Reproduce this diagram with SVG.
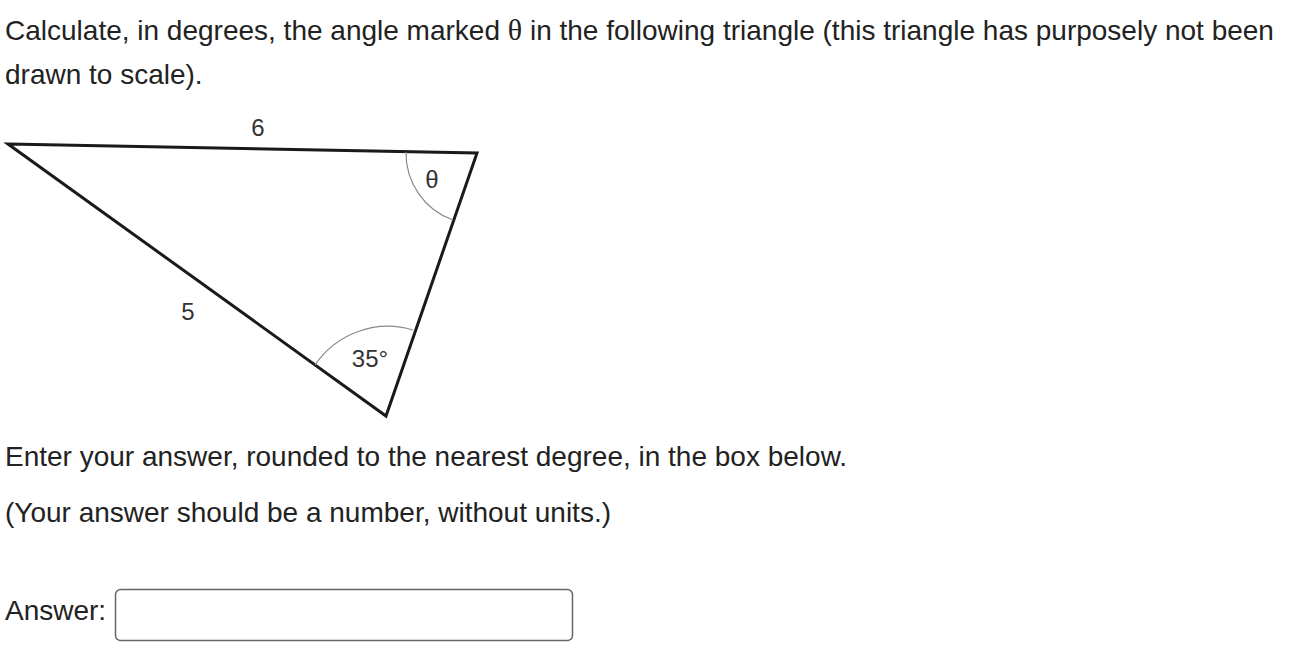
<svg xmlns="http://www.w3.org/2000/svg" width="1296" height="662" viewBox="0 0 1296 662">
<style>
.t{font-family:"Liberation Sans",Arial,sans-serif;font-size:28px;fill:#222}
.s{font-family:"Liberation Serif","Times New Roman",serif}
.l{font-family:"Liberation Sans",Arial,sans-serif;font-size:24px;fill:#333}
.edge{stroke:#1a1a1a;stroke-width:3;fill:none;stroke-linejoin:miter}
.arc{stroke:#888;stroke-width:1.2;fill:none}
</style>
<rect width="1296" height="662" fill="#fff"/>
<g id="question">
<text class="t" x="5" y="40">Calculate, in degrees, the angle marked <tspan class="s" font-size="30">θ</tspan> in the following triangle (this triangle has purposely not been</text>
<text class="t" x="5" y="84">drawn to scale).</text>
</g>
<g id="triangle">
<polygon class="edge" points="8,144 477,153 386,416"/>
<path class="arc" d="M406,152 A71,71 0 0 0 453,220"/>
<path class="arc" d="M315,365 A88,88 0 0 1 413,330"/>
<text class="l" x="258" y="136" text-anchor="middle">6</text>
<text class="l" x="188" y="320" text-anchor="middle">5</text>
<text class="l" x="370" y="367" text-anchor="middle">35°</text>
<text class="l s" x="432" y="188" text-anchor="middle">θ</text>
</g>
<g id="instructions">
<text class="t" x="5" y="466">Enter your answer, rounded to the nearest degree, in the box below.</text>
<text class="t" x="5" y="522">(Your answer should be a number, without units.)</text>
</g>
<g id="answer">
<text class="t" x="5" y="620">Answer:</text>
<rect x="115.5" y="589.5" width="457" height="51" rx="5" fill="#fff" stroke="#666" stroke-width="1.5"/>
</g>
</svg>
